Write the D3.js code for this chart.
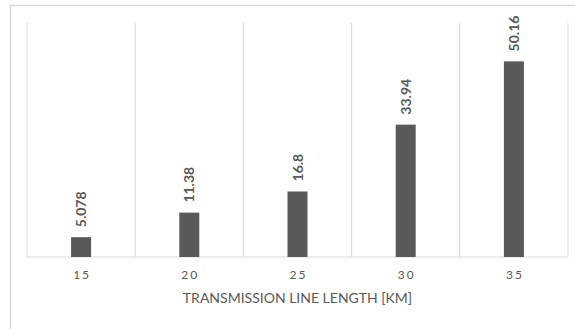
<!DOCTYPE html>
<html><head><meta charset="utf-8">
<script src="https://cdn.jsdelivr.net/npm/d3@7"></script>
<style>body{margin:0;background:#fff}</style>
</head><body>
<svg id="c" width="575" height="329"></svg>
<script>
const categories = ["15","20","25","30","35"];
const values = [5.078, 11.38, 16.8, 33.94, 50.16];
const valueLabels = ["5.078","11.38","16.8","33.94","50.16"];
const axisTitle = "TRANSMISSION LINE LENGTH [KM]";

const svg = d3.select("#c");
const W = 575, H = 329;
const m = {left: 27, right: 7, top: 23, bottom: 72};
const pw = W - m.left - m.right, ph = H - m.top - m.bottom;
const font = "Lato, 'Open Sans', sans-serif";

svg.append("rect").attr("x",10.5).attr("y",5.5).attr("width",600).attr("height",400)
  .attr("fill","#fff").attr("stroke","#d9d9d9").attr("stroke-width",1.5);

const x = d3.scaleBand().domain(categories).range([m.left, m.left+pw]).paddingInner(0).paddingOuter(0);
const y = d3.scaleLinear().domain([0,60]).range([m.top+ph, m.top]);

const g = svg.append("g");
const bounds = categories.map(c => x(c)).concat([m.left+pw]);
g.selectAll("line.grid").data(bounds).enter().append("line")
  .attr("x1",d=>d).attr("x2",d=>d).attr("y1",m.top).attr("y2",m.top+ph)
  .attr("stroke","#d9d9d9").attr("stroke-width",1);
g.append("line").attr("x1",m.left).attr("x2",m.left+pw).attr("y1",y(0)).attr("y2",y(0))
  .attr("stroke","#d9d9d9").attr("stroke-width",1);

const bw = 20;
g.selectAll("rect.bar").data(values).enter().append("rect")
  .attr("x",(d,i)=>x(categories[i])+x.bandwidth()/2-bw/2)
  .attr("y",d=>y(d)).attr("width",bw).attr("height",d=>y(0)-y(d))
  .attr("fill","#595959");

g.selectAll("text.vl").data(values).enter().append("text")
  .attr("transform",(d,i)=>`translate(${x(categories[i])+x.bandwidth()/2+5},${y(d)-10}) rotate(-90)`)
  .attr("text-anchor","start")
  .attr("font-family",font).attr("font-size",14).attr("font-weight","bold")
  .attr("fill","#595959")
  .text((d,i)=>valueLabels[i]);

const xa = svg.append("g").attr("transform",`translate(0,${y(0)})`)
  .call(d3.axisBottom(x).tickSize(0).tickPadding(13));
xa.select(".domain").remove();
xa.selectAll("text").attr("font-family",font).attr("font-size",12)
  .attr("fill","#595959").attr("letter-spacing","2px").attr("dx","1px");

svg.append("text").attr("x",m.left+pw/2).attr("y",303)
  .attr("text-anchor","middle").attr("font-family",font).attr("font-size",14)
  .attr("fill","#595959").text(axisTitle);
</script>
</body></html>
